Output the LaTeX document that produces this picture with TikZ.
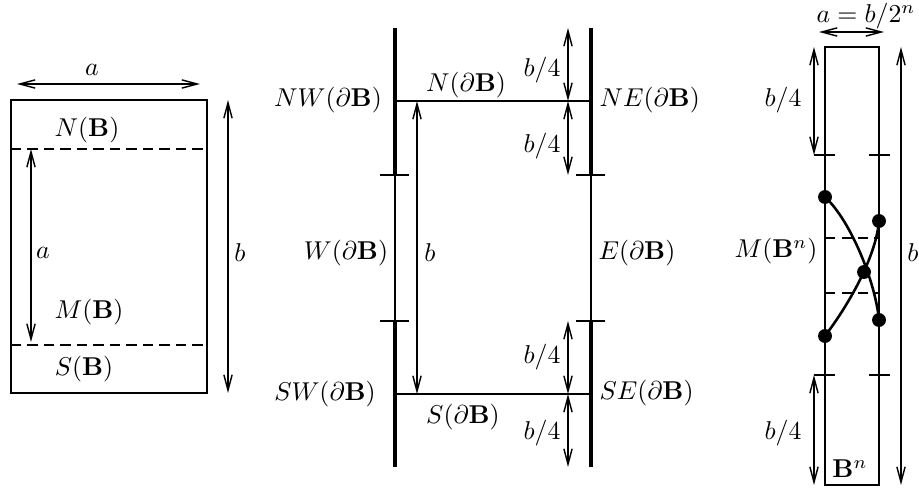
\documentclass[tikz,border=0pt]{standalone}
\usetikzlibrary{arrows.meta}
\begin{document}
\begin{tikzpicture}[x=0.388pt,y=-0.388pt,
  tip/.tip={Straight Barb[length=6pt,width=3.2pt,line width=0.55pt]},
  dim/.style={line width=0.55pt,{tip}-{tip}},
  box/.style={line width=1.1pt},
  sep/.style={line width=1.1pt,dash pattern=on 4pt off 2.4pt},
  bnd/.style={line width=1.9pt},
  mid/.style={line width=1pt},
  tick/.style={line width=0.55pt},
  lbl/.style={inner sep=0pt},
  dot/.style={circle,fill=black,inner sep=0pt,minimum size=5.4pt}]
\useasboundingbox (0,0) rectangle (919,489);

% ---------------- left box ----------------
\draw[box] (11,100) rectangle (207,393);
\coordinate (nL) at (11,149); \coordinate (nR) at (207,149);
\coordinate (sL) at (11,345); \coordinate (sR) at (207,345);
\draw[sep] (nL) -- (nR);
\draw[sep] (sL) -- (sR);
\coordinate (aT1) at (17,84); \coordinate (aT2) at (200,84);
\draw[dim] (aT1) -- (aT2);
\node[lbl] (la) at (92,70) {$a$};
\coordinate (bL1) at (228,100); \coordinate (bL2) at (228,393);
\draw[dim] (bL1) -- (bL2);
\node[lbl] (lb) at (240,253) {$b$};
\coordinate (aI1) at (31,149); \coordinate (aI2) at (31,342);
\draw[dim] (aI1) -- (aI2);
\node[lbl] (lai) at (43,253) {$a$};
\node[lbl] (NB) at (87,130) {$N(\mathbf{B})$};
\node[lbl] (MB) at (89,312) {$M(\mathbf{B})$};
\node[lbl] (SB) at (84,369) {$S(\mathbf{B})$};

% ---------------- middle ----------------
\coordinate (wTop) at (395,28); \coordinate (wT) at (395,175);
\coordinate (wB) at (395,321); \coordinate (wBot) at (395,467);
\coordinate (eTop) at (591,28); \coordinate (eT) at (591,175);
\coordinate (eB) at (591,321); \coordinate (eBot) at (591,467);
\draw[bnd] (wTop) -- (wT);
\draw[mid] (wT) -- (wB);
\draw[bnd] (wB) -- (wBot);
\draw[bnd] (eTop) -- (eT);
\draw[mid] (eT) -- (eB);
\draw[bnd] (eB) -- (eBot);
\draw[tick] (wT) ++(-15,0) -- ++(29,0);
\draw[tick] (wB) ++(-15,0) -- ++(29,0);
\draw[tick] (eT) ++(-15,0) -- ++(29,0);
\draw[tick] (eB) ++(-15,0) -- ++(29,0);
\coordinate (nw) at (395,101); \coordinate (ne) at (591,101);
\coordinate (sw) at (395,394); \coordinate (se) at (591,394);
\draw[mid] (nw) -- (ne);
\draw[mid] (sw) -- (se);
\coordinate (bm1) at (417,101); \coordinate (bm2) at (417,394);
\draw[dim] (bm1) -- (bm2);
\node[lbl] (lbm) at (430,253) {$b$};
\coordinate (q0) at (568,28); \coordinate (q1) at (568,101);
\coordinate (q2) at (568,175); \coordinate (q3) at (568,321);
\coordinate (q4) at (568,394); \coordinate (q5) at (568,467);
\draw[dim] (q0) -- (q1);
\draw[dim] (q1) -- (q2);
\draw[dim] (q3) -- (q4);
\draw[dim] (q4) -- (q5);
\node[lbl] (l41) at (542,70) {$b/4$};
\node[lbl] (l42) at (542,146) {$b/4$};
\node[lbl] (l43) at (542,357) {$b/4$};
\node[lbl] (l44) at (542,433) {$b/4$};
\node[lbl] (NW) at (328,100) {$NW(\partial\mathbf{B})$};
\node[lbl] (Nd) at (466,85) {$N(\partial\mathbf{B})$};
\node[lbl,anchor=west] (NE) at (599,100) {$NE(\partial\mathbf{B})$};
\node[lbl] (W) at (346,253) {$W(\partial\mathbf{B})$};
\node[lbl,anchor=west] (E) at (598,253) {$E(\partial\mathbf{B})$};
\node[lbl] (SW) at (325,394) {$SW(\partial\mathbf{B})$};
\node[lbl] (Sd) at (463,417) {$S(\partial\mathbf{B})$};
\node[lbl,anchor=west] (SE) at (599,393) {$SE(\partial\mathbf{B})$};

% ---------------- right ----------------
\draw[box] (825,47) rectangle (879,485);
\coordinate (rT1) at (825,155); \coordinate (rT2) at (879,155);
\coordinate (rB1) at (825,375); \coordinate (rB2) at (879,375);
\draw[tick] (rT1) ++(-11,0) -- ++(21,0);
\draw[tick] (rT2) ++(-10,0) -- ++(21,0);
\draw[tick] (rB1) ++(-11,0) -- ++(21,0);
\draw[tick] (rB2) ++(-10,0) -- ++(21,0);
\coordinate (ra1) at (819,32); \coordinate (ra2) at (884,32);
\draw[dim] (ra1) -- (ra2);
\node[lbl] (lra) at (866,16) {$a=b/2^n$};
\coordinate (rq0) at (814,47); \coordinate (rq1) at (814,155);
\coordinate (rq2) at (814,375); \coordinate (rq3) at (814,485);
\draw[dim] (rq0) -- (rq1);
\draw[dim] (rq2) -- (rq3);
\node[lbl] (rl41) at (783,100) {$b/4$};
\node[lbl] (rl42) at (783,433) {$b/4$};
\coordinate (rb1) at (901,47); \coordinate (rb2) at (901,485);
\draw[dim] (rb1) -- (rb2);
\node[lbl] (rlb) at (913,253) {$b$};
\coordinate (m1) at (825,238); \coordinate (m2) at (879,238);
\coordinate (m3) at (825,293); \coordinate (m4) at (879,293);
\draw[sep] (m1) -- (m2);
\draw[sep] (m3) -- (m4);
\node[lbl] (MBn) at (776,251) {$M(\mathbf{B}^n)$};
\node[lbl] (Bn) at (850,469) {$\mathbf{B}^n$};
\node[dot] (d1) at (825,197) {};
\node[dot] (d2) at (879,221) {};
\node[dot] (d3) at (864,272) {};
\node[dot] (d4) at (879,320) {};
\node[dot] (d5) at (825,336) {};
\draw[mid] (d1.center) .. controls (850,220) and (875,280) .. (d4.center);
\draw[mid] (d5.center) .. controls (852,300) and (876,255) .. (d2.center);
\end{tikzpicture}
\end{document}
